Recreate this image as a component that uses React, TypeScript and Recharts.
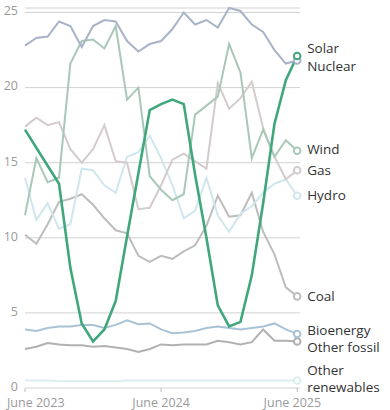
import React from "react";
import { LineChart, Line, XAxis, YAxis, CartesianGrid } from "recharts";

const months = [
  "June 2023", "July 2023", "Aug 2023", "Sep 2023", "Oct 2023", "Nov 2023", "Dec 2023",
  "Jan 2024", "Feb 2024", "Mar 2024", "Apr 2024", "May 2024", "June 2024", "July 2024",
  "Aug 2024", "Sep 2024", "Oct 2024", "Nov 2024", "Dec 2024", "Jan 2025", "Feb 2025",
  "Mar 2025", "Apr 2025", "May 2025", "June 2025",
];

const solar = [17.2, 16.0, 14.8, 13.6, 8.0, 4.3, 3.1, 3.9, 5.8, 10.1, 14.3, 18.5, 18.9, 19.2, 18.9, 14.2, 10.0, 5.5, 4.1, 4.4, 7.5, 12.3, 17.6, 20.5, 22.1];
const nuclear = [22.8, 23.3, 23.4, 24.4, 24.1, 22.7, 24.1, 24.5, 24.4, 23.1, 22.4, 22.9, 23.1, 23.9, 25.0, 24.2, 24.5, 24.0, 25.3, 25.1, 24.2, 23.7, 22.5, 21.6, 21.8];
const wind = [11.5, 15.3, 13.7, 14.0, 21.6, 23.1, 23.2, 22.6, 24.1, 19.2, 20.0, 14.1, 13.2, 12.5, 12.9, 18.2, 18.8, 19.4, 22.9, 21.0, 15.3, 17.2, 15.4, 16.5, 15.8];
const gas = [17.4, 18.0, 17.5, 17.7, 15.9, 15.0, 15.9, 17.5, 15.1, 15.0, 11.9, 12.0, 13.5, 15.2, 15.6, 15.1, 14.6, 20.3, 18.6, 19.3, 20.4, 17.3, 15.4, 13.9, 14.5];
const hydro = [14.0, 11.2, 12.3, 10.6, 10.9, 14.6, 14.5, 13.5, 13.0, 15.4, 15.7, 16.8, 15.3, 13.5, 11.3, 11.8, 14.0, 11.5, 10.4, 11.6, 12.1, 13.0, 13.6, 13.9, 12.8];
const coal = [10.2, 9.6, 10.9, 12.4, 12.6, 12.9, 12.2, 11.3, 10.5, 10.3, 8.8, 8.4, 8.8, 8.6, 9.1, 9.5, 10.8, 12.8, 11.4, 11.5, 13.0, 10.4, 8.9, 6.7, 6.1];
const bioenergy = [3.9, 3.8, 4.0, 4.1, 4.1, 4.2, 4.2, 4.0, 4.2, 4.5, 4.25, 4.3, 3.9, 3.65, 3.7, 3.8, 4.0, 4.1, 4.0, 3.9, 4.0, 4.1, 4.3, 3.9, 3.6];
const otherFossil = [2.6, 2.75, 3.0, 2.9, 2.85, 2.85, 2.75, 2.8, 2.7, 2.6, 2.4, 2.6, 2.9, 2.85, 2.9, 2.9, 2.9, 3.15, 3.05, 2.9, 3.05, 3.9, 3.15, 3.15, 3.1];
const otherRenewables = [0.5, 0.5, 0.5, 0.45, 0.45, 0.45, 0.45, 0.45, 0.45, 0.5, 0.5, 0.5, 0.5, 0.5, 0.5, 0.5, 0.5, 0.5, 0.5, 0.5, 0.5, 0.5, 0.5, 0.5, 0.5];

const yTicks = [0, 5, 10, 15, 20, 25];
const xTicks = [0, 12, 24];

const data = months.map((m, i) => ({
  i,
  month: m,
  solar: solar[i],
  nuclear: nuclear[i],
  wind: wind[i],
  gas: gas[i],
  hydro: hydro[i],
  coal: coal[i],
  bioenergy: bioenergy[i],
  otherFossil: otherFossil[i],
  otherRenewables: otherRenewables[i],
}));

const series = [
  { key: "otherRenewables", name: ["Other", "renewables"], color: "#dcefee", width: 2, dy: -10.5 },
  { key: "otherFossil", name: ["Other fossil"], color: "#b1b1b1", width: 2, dy: 5.5 },
  { key: "bioenergy", name: ["Bioenergy"], color: "#a9c3d6", width: 2, dy: -3.5 },
  { key: "coal", name: ["Coal"], color: "#bdbdbd", width: 2, dy: 0 },
  { key: "hydro", name: ["Hydro"], color: "#cfe6ee", width: 2, dy: 0 },
  { key: "gas", name: ["Gas"], color: "#d3cbcc", width: 2, dy: 0 },
  { key: "wind", name: ["Wind"], color: "#a9c8b8", width: 2, dy: -1 },
  { key: "nuclear", name: ["Nuclear"], color: "#a8b3c8", width: 2, dy: 5.5 },
  { key: "solar", name: ["Solar"], color: "#3fa77b", width: 2.6, dy: -7.5 },
];

const FONT = "'Open Sans', 'Noto Sans', sans-serif";
const last = months.length - 1;

const makeDot = (s: any) => (p: any) => {
  if (p.index !== last) return <g key={`${s.key}-${p.index}`} />;
  return (
    <g key={`${s.key}-end`}>
      <circle cx={p.cx} cy={p.cy} r={3.3} fill="#fff" stroke={s.color} strokeWidth={2} />
      <text x={p.cx + 10} y={p.cy + s.dy} fill="#333" fontSize={13.5} fontFamily={FONT}>
        {s.name.map((n: string, k: number) => (
          <tspan key={k} x={p.cx + 10} dy={k === 0 ? "0.35em" : 17}>
            {n}
          </tspan>
        ))}
      </text>
    </g>
  );
};

const YTick = (p: any) => (
  <text x={18} y={p.y - 1.5} dy="0.35em" textAnchor="end" fill="#9a9a9a" fontSize={12.5} fontFamily={FONT}>
    {p.payload.value}
  </text>
);

const XTick = (p: any) => {
  const v = p.payload.value;
  let anchor = "middle";
  let dx = 0;
  if (v === 0) { anchor = "start"; dx = -18; }
  if (v === last) { anchor = "end"; dx = 24; }
  return (
    <text x={p.x + dx} y={p.y + 1} dy="0.95em" textAnchor={anchor} fill="#9a9a9a" fontSize={12.5} fontFamily={FONT}>
      {months[v]}
    </text>
  );
};

export default function App() {
  return (
    <div style={{ position: "absolute", left: 0, top: 0, width: 390, height: 410, background: "#fff" }}>
      <LineChart width={390} height={410} data={data} margin={{ top: 8, right: 90, bottom: 0, left: 0 }}>
        <CartesianGrid horizontal vertical={false} stroke="#d2d2d2" />
        <XAxis
          dataKey="i"
          type="number"
          domain={[0, 24.25]}
          ticks={xTicks}
          height={22}
          axisLine={false}
          tickLine={{ stroke: "#bdbdbd" }}
          tickSize={4}
          tick={<XTick />}
          interval={0}
        />
        <YAxis
          domain={[0, 25]}
          ticks={yTicks}
          width={25}
          axisLine={false}
          tickLine={false}
          tick={<YTick />}
          interval={0}
        />
        {series.map((s) => (
          <Line
            key={s.key}
            dataKey={s.key}
            stroke={s.color}
            strokeWidth={s.width}
            type="linear"
            dot={makeDot(s)}
            activeDot={false}
            isAnimationActive={false}
          />
        ))}
      </LineChart>
    </div>
  );
}
